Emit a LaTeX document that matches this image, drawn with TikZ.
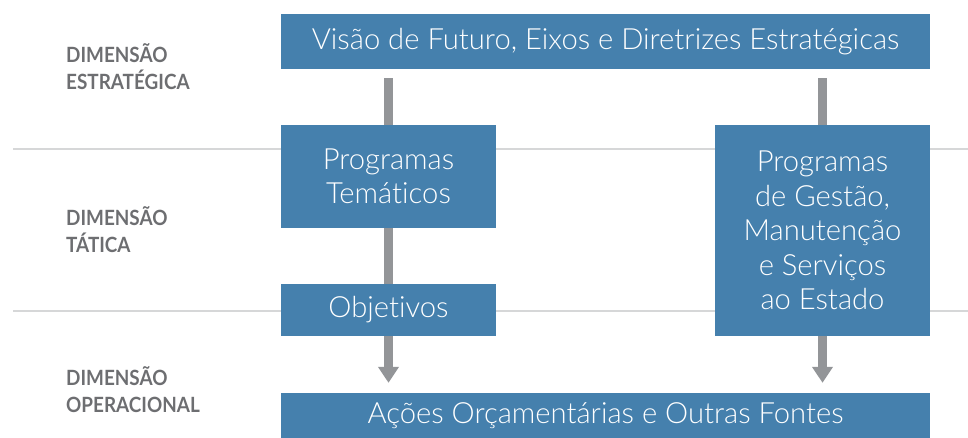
\documentclass[tikz,border=0pt]{standalone}
\usepackage{fontspec}
\setmainfont{Lato}[UprightFont=* Light, RawFeature=-liga]
\newfontfamily\labelfont[FakeStretch=0.9, RawFeature=-liga]{Lato}
\usetikzlibrary{arrows.meta,backgrounds}
\definecolor{boxblue}{HTML}{4580AD}
\definecolor{arrowgray}{HTML}{939598}
\definecolor{rulegray}{HTML}{D6D7D8}
\definecolor{labelgray}{HTML}{6D6E71}
\tikzset{
  blbox/.style={fill=boxblue, text=white, inner sep=0pt, align=center,
    font=\fontsize{29.2}{34.5}\selectfont},
  dimlabel/.style={text=labelgray, anchor=west, align=left, inner sep=0pt,
    font=\labelfont\fontsize{21}{27}\selectfont\bfseries},
  flow/.style={draw=arrowgray, line width=9.5pt, -{Triangle[length=16pt,width=20pt]}},
  rule/.style={draw=rulegray, line width=2pt}
}
\begin{document}
\begin{tikzpicture}[x=1pt,y=-1pt]
\useasboundingbox (0,0) rectangle (968,438);
\node[blbox, minimum width=649pt, minimum height=55pt] (top) at (605.5,41.5) {Visão de Futuro, Eixos e Diretrizes Estratégicas};
\node[blbox, minimum width=215pt, minimum height=103pt] (tem) at (388.5,176.5) {Programas\\Temáticos};
\node[blbox, minimum width=215pt, minimum height=52pt] (obj) at (388.5,310) {Objetivos};
\node[blbox, minimum width=215pt, minimum height=211pt] (ges) at (822.5,230.5) {Programas\\de Gestão,\\Manutenção\\e Serviços\\ao Estado};
\node[blbox, minimum width=649pt, minimum height=45pt] (acoes) at (605.5,415.5) {Ações Orçamentárias e Outras Fontes};
\node[dimlabel] (lest) at (66,67) {DIMENSÃO\\ESTRATÉGICA};
\node[dimlabel] (ltat) at (66,230) {DIMENSÃO\\TÁTICA};
\node[dimlabel] (lope) at (66,390) {DIMENSÃO\\OPERACIONAL};
\begin{scope}[on background layer]
\draw[rule] (13,149) -- (968,149);
\draw[rule] (13,311) -- (968,311);
\draw[flow] ([yshift=-9pt]top.south -| tem.center) -- ([yshift=10pt]acoes.north -| tem.center);
\draw[flow] ([yshift=-9pt]top.south -| ges.center) -- ([yshift=10pt]acoes.north -| ges.center);
\end{scope}
\end{tikzpicture}
\end{document}
